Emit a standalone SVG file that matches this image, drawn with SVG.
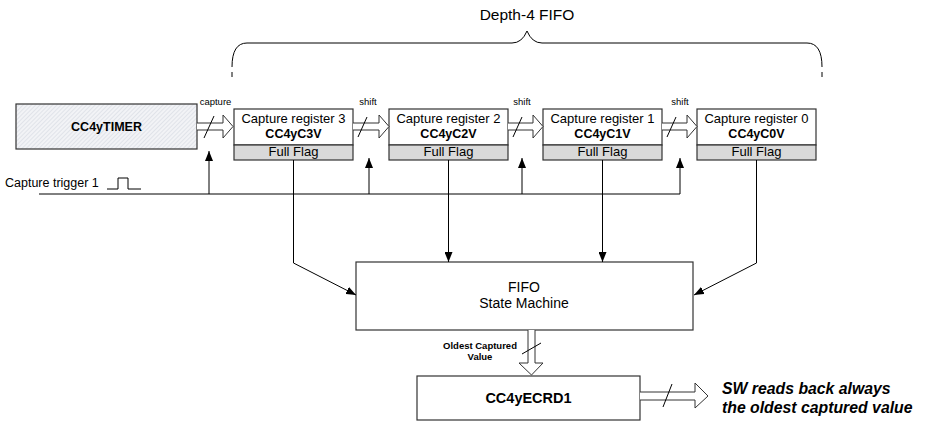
<svg xmlns="http://www.w3.org/2000/svg" width="925" height="421" viewBox="0 0 925 421">
<style>
text{font-family:"Liberation Sans",Arial,sans-serif;fill:#000}
.box{fill:#fff;stroke:#333;stroke-width:1.2}
.flag{fill:#d9d9d9;stroke:#333;stroke-width:1.2}
.ln{fill:none;stroke:#000;stroke-width:1}
.hol{fill:#fff;stroke:#333;stroke-width:1}
.t13{font-size:13px}
.b{font-weight:bold}
.sm{font-size:9.5px}
</style>
<defs>
<pattern id="hatch" width="3" height="3" patternUnits="userSpaceOnUse" patternTransform="rotate(-45)">
<rect width="3" height="3" fill="#f2f3f6"/>
<line x1="0" y1="0" x2="3" y2="0" stroke="#cfd3dc" stroke-width="1"/>
</pattern>
<marker id="ah" markerWidth="10" markerHeight="8" refX="10" refY="4" orient="auto" markerUnits="userSpaceOnUse">
<path d="M0,0 L10,4 L0,8 Z" fill="#000"/>
</marker>
</defs>

<g id="brace">
<text x="527" y="20" font-size="15.5" text-anchor="middle">Depth-4 FIFO</text>
<path class="ln" d="M232,67 Q232,43 247,43 L512,43 Q522,43 527,31 Q532,43 542,43 L807,43 Q822,43 822,67"/>
<path class="ln" d="M232,72 L232,77 M822,72 L822,77" stroke-width="1.5"/>
</g>

<g id="timer">
<rect x="16" y="104" width="181" height="45" fill="url(#hatch)" stroke="#333" stroke-width="1.2"/>
<text x="106.5" y="131" class="b" font-size="12.5" text-anchor="middle">CC4yTIMER</text>
</g>

<g id="reg3">
<rect class="box" x="234" y="109" width="119" height="36"/>
<rect class="flag" x="234" y="145" width="119" height="15"/>
<text x="293.5" y="123" class="t13" text-anchor="middle">Capture register 3</text>
<text x="293.5" y="138" class="b" font-size="12.5" text-anchor="middle">CC4yC3V</text>
<text x="293.5" y="156" class="t13" text-anchor="middle">Full Flag</text>
</g>
<g id="reg2">
<rect class="box" x="389" y="109" width="119" height="36"/>
<rect class="flag" x="389" y="145" width="119" height="15"/>
<text x="448.5" y="123" class="t13" text-anchor="middle">Capture register 2</text>
<text x="448.5" y="138" class="b" font-size="12.5" text-anchor="middle">CC4yC2V</text>
<text x="448.5" y="156" class="t13" text-anchor="middle">Full Flag</text>
</g>
<g id="reg1">
<rect class="box" x="543" y="109" width="119" height="36"/>
<rect class="flag" x="543" y="145" width="119" height="15"/>
<text x="602.5" y="123" class="t13" text-anchor="middle">Capture register 1</text>
<text x="602.5" y="138" class="b" font-size="12.5" text-anchor="middle">CC4yC1V</text>
<text x="602.5" y="156" class="t13" text-anchor="middle">Full Flag</text>
</g>
<g id="reg0">
<rect class="box" x="697" y="109" width="119" height="36"/>
<rect class="flag" x="697" y="145" width="119" height="15"/>
<text x="756.5" y="123" class="t13" text-anchor="middle">Capture register 0</text>
<text x="756.5" y="138" class="b" font-size="12.5" text-anchor="middle">CC4yC0V</text>
<text x="756.5" y="156" class="t13" text-anchor="middle">Full Flag</text>
</g>

<g id="fsm">
<rect class="box" x="356" y="262" width="337" height="68"/>
<text x="524" y="292" font-size="14" text-anchor="middle">FIFO</text>
<text x="524" y="308" font-size="14" text-anchor="middle">State Machine</text>
</g>

<g id="ecrd">
<rect class="box" x="417" y="376" width="223" height="44"/>
<text x="528.5" y="403" class="b" font-size="14.5" text-anchor="middle">CC4yECRD1</text>
</g>

<g id="trigger">
<text x="5" y="187" font-size="12.5">Capture trigger 1</text>
<path class="ln" d="M107,189 L118,189 L118,178 L128,178 L128,189 L141,189"/>
</g>

<g id="connectors">
<path class="hol" d="M197,123 L223,123 L223,115 L233,126.5 L223,138 L223,130 L197,130"/>
<path class="ln" d="M204,138 L214,116"/>
<text x="215.5" y="105" class="sm" text-anchor="middle">capture</text>

<path class="hol" d="M353,123 L379,123 L379,115 L389,126.5 L379,138 L379,130 L353,130"/>
<path class="ln" d="M358,137 L367,117"/>
<text x="368" y="105" class="sm" text-anchor="middle">shift</text>

<path class="hol" d="M508,123 L533,123 L533,115 L543,126.5 L533,138 L533,130 L508,130"/>
<path class="ln" d="M513,137 L522,117"/>
<text x="522" y="105" class="sm" text-anchor="middle">shift</text>

<path class="hol" d="M662,123 L687,123 L687,115 L697,126.5 L687,138 L687,130 L662,130"/>
<path class="ln" d="M667,137 L676,117"/>
<text x="680" y="105" class="sm" text-anchor="middle">shift</text>

<path class="ln" d="M39,194 L680,194"/>
<path class="ln" d="M209,194 L209,151" marker-end="url(#ah)"/>
<path class="ln" d="M369,194 L369,158" marker-end="url(#ah)"/>
<path class="ln" d="M522,194 L522,158" marker-end="url(#ah)"/>
<path class="ln" d="M680,194 L680,158" marker-end="url(#ah)"/>

<path class="ln" d="M293.5,160 L293.5,263 L356,295" marker-end="url(#ah)"/>
<path class="ln" d="M448.5,160 L448.5,262" marker-end="url(#ah)"/>
<path class="ln" d="M602.5,160 L602.5,262" marker-end="url(#ah)"/>
<path class="ln" d="M756.5,160 L756.5,263 L694,295" marker-end="url(#ah)"/>

<path class="hol" d="M528,330 L528,363 L519,363 L531.5,375 L543,363 L535,363 L535,330"/>
<path class="ln" d="M522,354 L541,343"/>
<text x="480" y="349" class="b" font-size="9.5" text-anchor="middle">Oldest Captured</text>
<text x="480" y="360" class="b" font-size="9.5" text-anchor="middle">Value</text>

<path class="hol" d="M640,392 L695,392 L695,383 L708,396 L695,408 L695,400 L640,400"/>
<path class="ln" d="M663,407 L672,384"/>
</g>

<g id="sw-note">
<text x="722" y="394" class="b" font-size="15.8" font-style="italic">SW reads back always</text>
<text x="722" y="413" class="b" font-size="15.8" font-style="italic">the oldest captured value</text>
</g>
</svg>
